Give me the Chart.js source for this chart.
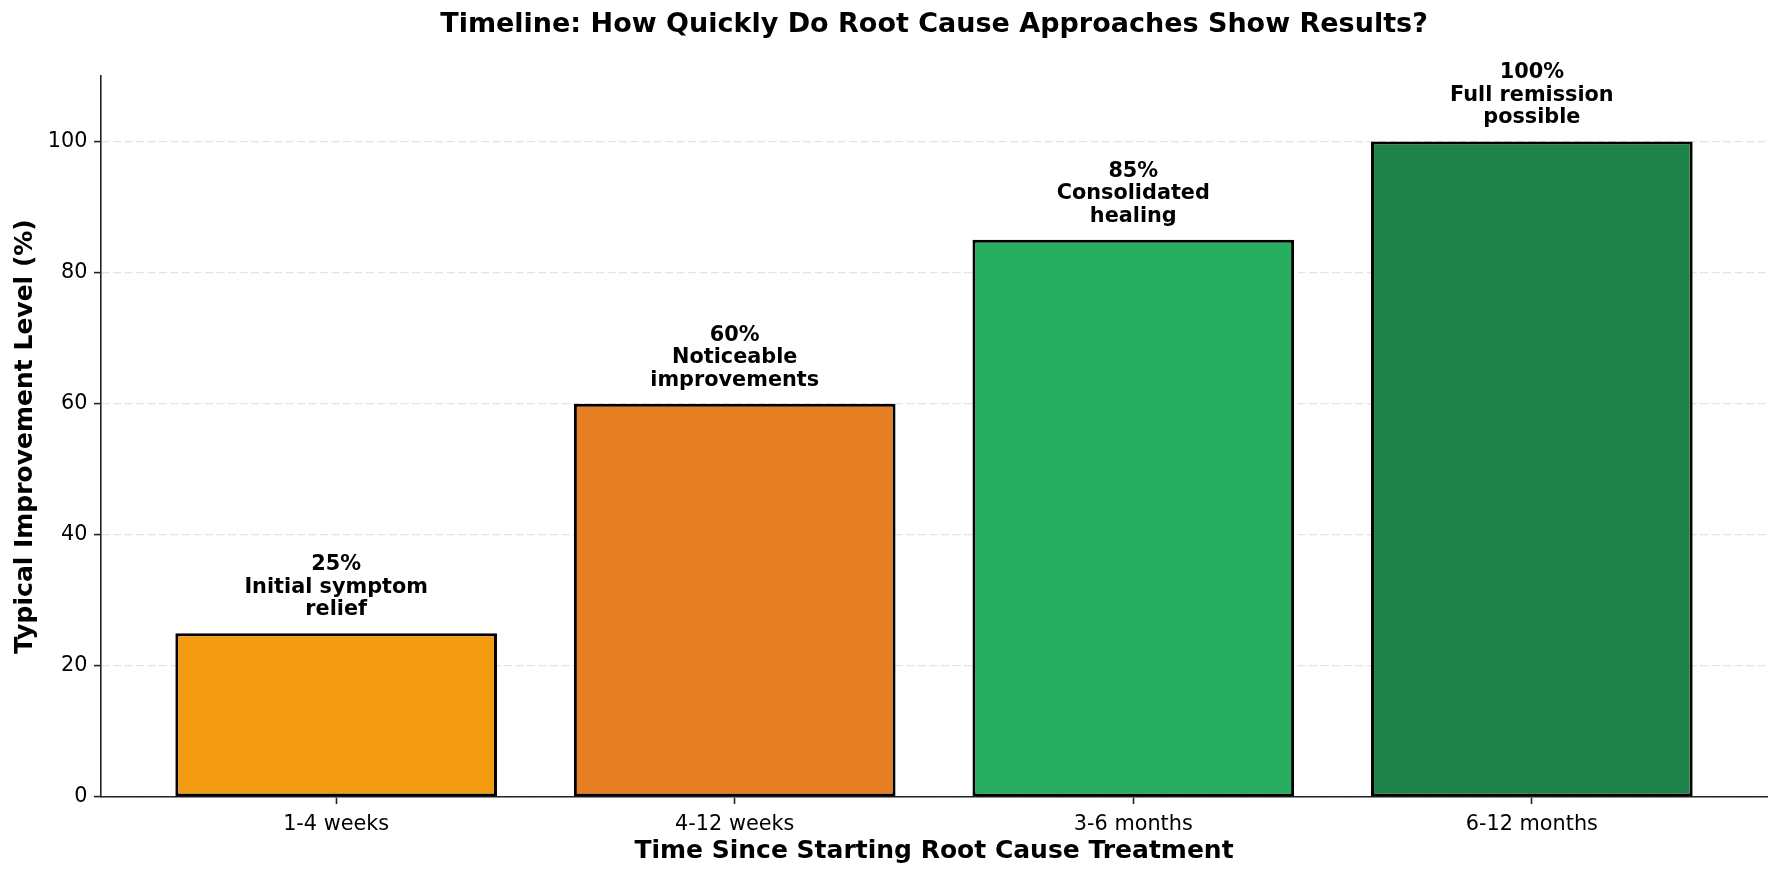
<!DOCTYPE html>
<html>
<head>
<meta charset="utf-8">
<script src="https://cdn.jsdelivr.net/npm/chart.js@4.4.0/dist/chart.umd.min.js"></script>
<style>
html,body{margin:0;padding:0;background:#ffffff;}
#wrap{width:1782px;height:879px;}
canvas{display:block;}
</style>
</head>
<body>
<div id="wrap"><canvas id="c" width="1782" height="879"></canvas></div>
<script>
const categories = ['1-4 weeks', '4-12 weeks', '3-6 months', '6-12 months'];
const improvement = [25, 60, 85, 100];
const descriptions = [
  ['Initial symptom', 'relief'],
  ['Noticeable', 'improvements'],
  ['Consolidated', 'healing'],
  ['Full remission', 'possible']
];
const barColors = ['#F39C12', '#E67E22', '#27AE60', '#1E8449'];
const yTicks = [0, 20, 40, 60, 80, 100];

Chart.defaults.font.family = '"DejaVu Sans", sans-serif';
Chart.defaults.color = '#000';

const annotate = {
  id: 'annotate',
  afterDatasetsDraw(chart) {
    const {ctx, scales: {x, y}} = chart;
    ctx.save();
    ctx.font = 'bold 20.8px "DejaVu Sans", sans-serif';
    ctx.fillStyle = '#000';
    ctx.textAlign = 'center';
    ctx.textBaseline = 'alphabetic';
    const lh = 22.5;
    improvement.forEach((v, i) => {
      const lines = [v + '%'].concat(descriptions[i]);
      const px = x.getPixelForValue(i);
      const bottom = y.getPixelForValue(v + 2);
      lines.forEach((t, k) => {
        ctx.fillText(t, px, bottom - 5 - (lines.length - 1 - k) * lh);
      });
    });
    ctx.restore();
  }
};

new Chart(document.getElementById('c'), {
  type: 'bar',
  data: {
    datasets: [{
      data: improvement.map((v, i) => ({x: i, y: v})),
      backgroundColor: barColors,
      borderColor: '#000',
      borderWidth: 3,
      borderSkipped: false,
      barPercentage: 0.807,
      categoryPercentage: 1.0
    }]
  },
  options: {
    responsive: false,
    devicePixelRatio: 1,
    animation: false,
    layout: {padding: {left: 0, right: 15, top: 0, bottom: 0}},
    plugins: {
      legend: {display: false},
      tooltip: {enabled: false},
      title: {
        display: true,
        fullSize: false,
        text: 'Timeline: How Quickly Do Root Cause Approaches Show Results?',
        font: {size: 27, weight: 'bold'},
        color: '#000',
        padding: {top: 8.8, bottom: 34.8}
      }
    },
    scales: {
      x: {
        type: 'linear',
        offset: false,
        min: -0.59,
        max: 3.59,
        afterBuildTicks: (scale) => { scale.ticks = categories.map((_, i) => ({value: i})); },
        afterFit: (scale) => { scale.height = 82; },
        ticks: {
          callback: (v) => categories[v],
          font: {size: 20.8},
          color: '#000',
          padding: 8,
          maxRotation: 0,
          autoSkip: false
        },
        grid: {
          offset: false,
          drawOnChartArea: false,
          drawTicks: true,
          tickLength: 7,
          tickColor: '#222',
          tickWidth: 1.6
        },
        border: {display: true, color: '#222', width: 1.6},
        title: {
          display: true,
          text: 'Time Since Starting Root Cause Treatment',
          font: {size: 25, weight: 'bold'},
          color: '#000',
          padding: {top: 0, bottom: 13}
        }
      },
      y: {
        type: 'linear',
        min: 0,
        max: 110,
        afterBuildTicks: (scale) => { scale.ticks = yTicks.map(v => ({value: v})); },
        afterFit: (scale) => { scale.width = 101; },
        ticks: {
          font: {size: 20.8},
          color: '#000',
          padding: 6.5
        },
        grid: {
          color: '#e3e3e3',
          lineWidth: 1.2,
          drawTicks: true,
          tickLength: 7,
          tickColor: '#222',
          tickWidth: 1.6
        },
        border: {display: true, color: '#222', width: 1.6, dash: [8, 3.5]},
        title: {
          display: true,
          text: 'Typical Improvement Level (%)',
          font: {size: 25, weight: 'bold'},
          color: '#000',
          padding: {top: 10, bottom: 0}
        }
      }
    }
  },
  plugins: [annotate]
});
</script>
</body>
</html>
